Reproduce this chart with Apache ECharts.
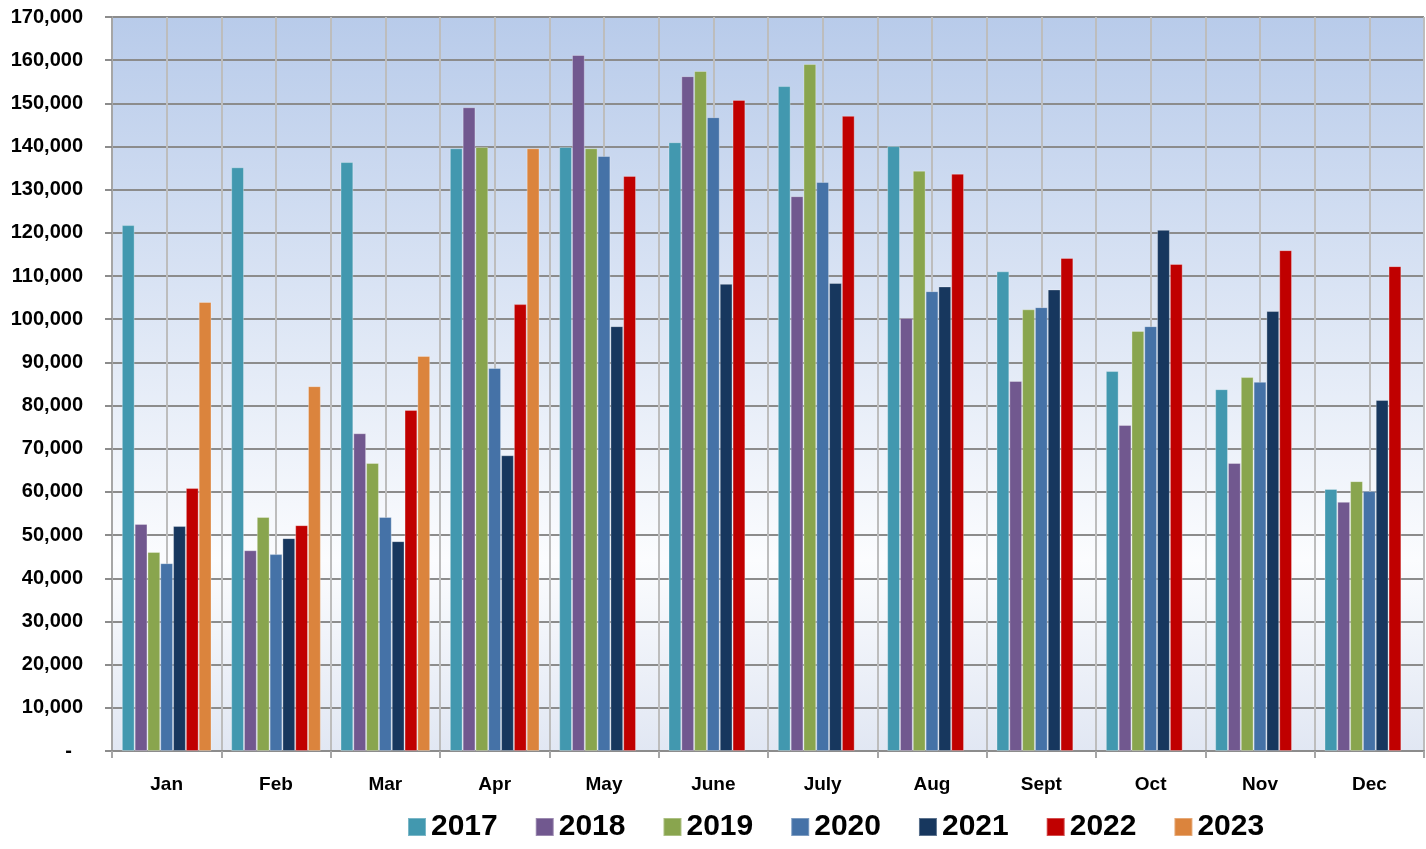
<!DOCTYPE html>
<html>
<head>
<meta charset="utf-8">
<script src="https://cdn.jsdelivr.net/npm/echarts@6/dist/echarts.min.js"></script>
<style>
    html, body { margin: 0; padding: 0; background: #fff; }
    #chart { width: 1426px; height: 849px; }
</style>
</head>
<body>
<div id="chart"></div>
<script>
const months = ['Jan', 'Feb', 'Mar', 'Apr', 'May', 'June', 'July', 'Aug', 'Sept', 'Oct', 'Nov', 'Dec'];
const years = ['2017', '2018', '2019', '2020', '2021', '2022', '2023'];

const v2017 = [121800, 135200, 136400, 139600, 139900, 141000, 154000, 140100, 111100, 88000, 83800, 60700];
const v2018 = [52600, 46500, 73600, 149100, 161200, 156300, 128500, 100300, 85700, 75500, 66700, 57700];
const v2019 = [46100, 54200, 66700, 139900, 139600, 157500, 159100, 134400, 102300, 97300, 86600, 62500];
const v2020 = [43500, 45600, 54200, 88700, 137800, 146800, 131800, 106500, 102800, 98400, 85500, 60200];
const v2021 = [52100, 49300, 48600, 68500, 98400, 108200, 108400, 107600, 106900, 120700, 101900, 81300];
const v2022 = [60900, 52300, 79000, 103500, 133200, 150800, 147100, 133700, 114200, 112800, 116000, 112300];
const v2023 = [104000, 84500, 91500, 139600, null, null, null, null, null, null, null, null];

const yearValues = [v2017, v2018, v2019, v2020, v2021, v2022, v2023];
const colors = ['#4298af', '#71588f', '#89a54e', '#4572a7', '#17375e', '#c00000', '#db843d'];

// y axis ticks
const yMax = 170000, yStep = 10000;
// hidden axis used only to draw the half-category vertical lines
const halfSteps = months.length * 2;

let chart = echarts.init(document.getElementById('chart'));

let option = {
    animation: false,
    textStyle: { fontFamily: 'Liberation Sans, Arial, sans-serif' },
    grid: { left: 112, right: 2, top: 17, bottom: 98 },
    legend: {
        left: 402,
        top: 807,
        itemWidth: 18,
        itemHeight: 18,
        itemGap: 37,
        icon: 'rect',
        textStyle: { fontSize: 30, fontWeight: 'bold', color: '#000' },
        data: years
    },
    xAxis: [
        {
            type: 'category',
            data: months,
            axisLine: { lineStyle: { color: '#8c8c8c', width: 2 } },
            axisTick: { show: true, length: 7, lineStyle: { color: '#a6a6a6', width: 2 } },
            axisLabel: { color: '#000', fontSize: 19, fontWeight: 'bold', margin: 24 },
            splitLine: { show: false }
        },
        {
            type: 'value',
            min: 0,
            max: halfSteps,
            interval: 1,
            position: 'top',
            axisLine: { show: false },
            axisTick: { show: false },
            axisLabel: { show: false },
            splitLine: { show: true, lineStyle: { color: '#bdbdbd', width: 2 } }
        }
    ],
    yAxis: {
        type: 'value',
        min: 0,
        max: yMax,
        interval: yStep,
        axisLine: { show: true, lineStyle: { color: '#a6a6a6', width: 2 } },
        axisTick: { show: true, length: 7, lineStyle: { color: '#8c8c8c', width: 2 } },
        axisLabel: {
            color: '#000',
            fontSize: 20,
            fontWeight: 'bold',
            margin: 29,
            formatter: function (v) {
                return v === 0 ? '-  ' : v.toLocaleString('en-US');
            }
        },
        splitLine: { show: true, lineStyle: { color: '#8c8c8c', width: 2 } }
    },
    graphic: [
        {
            type: 'rect',
            z: -10,
            shape: { x: 112, y: 17, width: 1312, height: 734 },
            style: {
                fill: new echarts.graphic.LinearGradient(0, 0, 0, 1, [
                    { offset: 0, color: '#b8cbea' },
                    { offset: 0.74, color: '#fbfcfe' },
                    { offset: 1, color: '#e1e7f3' }
                ])
            },
            silent: true
        }
    ],
    series: years.map((y, i) => ({
        name: y,
        type: 'bar',
        xAxisIndex: 0,
        barGap: '0%',
        barCategoryGap: '18%',
        itemStyle: {
            color: colors[i],
            borderColor: 'rgba(255,255,255,0.3)',
            borderWidth: 1
        },
        data: yearValues[i]
    }))
};

chart.setOption(option);
</script>
</body>
</html>
